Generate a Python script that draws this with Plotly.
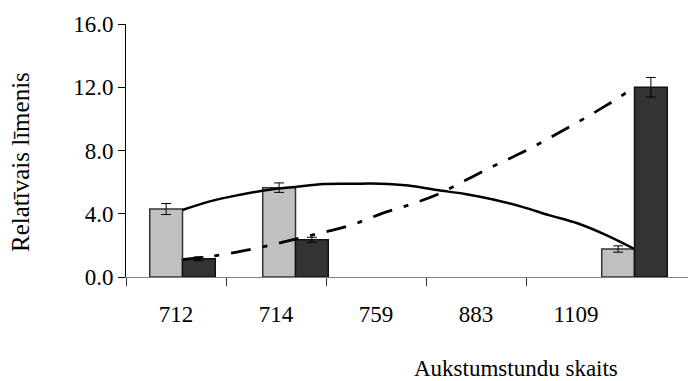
import plotly.graph_objects as go

categories = ["712", "714", "759", "883", "1109"]
light_values = [4.3, 5.65, None, None, 1.77]
light_errors = [0.35, 0.3, 0, 0, 0.2]
dark_values = [1.15, 2.35, None, None, 12.0]
dark_errors = [0.12, 0.16, 0, 0, 0.62]

# smooth trend curves (position in category units, value)
curve_pos = [0, 0.25, 0.5, 0.75, 1.0, 1.25, 1.5, 1.75, 2.0, 2.25, 2.5, 2.75, 3.0, 3.25, 3.5, 3.75, 4.0]
solid_curve = [4.24, 4.8, 5.19, 5.5, 5.7, 5.88, 5.9, 5.9, 5.78, 5.5, 5.25, 4.9, 4.45, 3.9, 3.38, 2.65, 1.77]
dash_curve = [1.1, 1.3, 1.6, 1.97, 2.4, 2.83, 3.3, 3.98, 4.55, 5.2, 6.1, 7.0, 7.85, 8.8, 9.8, 10.85, 12.0]

y_ticks = [0, 4, 8, 12, 16]

FONT = "Liberation Serif, Times New Roman, serif"
W, H = 688, 381
ML, MT, MB = 126, 24, 104
bar_w = 0.29
pos = list(range(len(categories)))

fig = go.Figure()
fig.add_trace(go.Bar(
    x=pos, y=light_values, xaxis="x2", yaxis="y",
    width=bar_w, offset=-bar_w,
    marker=dict(color="#c0c0c0", line=dict(color="#333333", width=1.5)),
    error_y=dict(type="data", array=light_errors, color="black", thickness=1, width=5),
    showlegend=False,
))
fig.add_trace(go.Bar(
    x=pos, y=dark_values, xaxis="x2", yaxis="y",
    width=bar_w, offset=0,
    marker=dict(color="#333333", line=dict(color="#111111", width=1.5)),
    error_y=dict(type="data", array=dark_errors, color="black", thickness=1, width=5),
    showlegend=False,
))
fig.add_trace(go.Scatter(
    x=curve_pos, y=solid_curve, xaxis="x2", yaxis="y", mode="lines",
    line=dict(color="black", width=2.5, shape="spline"), showlegend=False,
))
fig.add_trace(go.Scatter(
    x=curve_pos, y=dash_curve, xaxis="x2", yaxis="y", mode="lines",
    line=dict(color="black", width=2.8, shape="spline", dash="20px,12px,5px,12px"),
    showlegend=False,
))
# invisible trace to hold the label axis
fig.add_trace(go.Scatter(x=pos, y=[None]*len(pos), xaxis="x", yaxis="y",
                         mode="markers", showlegend=False, hoverinfo="skip"))

plot_w = W - ML
plot_h = H - MT - MB
lab_px = 100.0
bar_px = 113.0


def px_x(px):
    return (px - ML) / plot_w


def px_y(py):
    return 1 - (py - MT) / plot_h


fig.update_layout(
    width=W, height=H,
    margin=dict(l=ML, r=0, t=MT, b=MB, pad=0),
    paper_bgcolor="white", plot_bgcolor="white",
    font=dict(family=FONT, size=23, color="black"),
    xaxis=dict(
        range=[-0.5, plot_w / lab_px - 0.5],
        tickvals=pos, ticktext=categories,
        ticks="", showgrid=False, zeroline=False,
        showline=True, linecolor="#808080", linewidth=1,
        ticklabelstandoff=16,
        minor=dict(tickvals=[p - 0.5 for p in pos], ticks="outside", ticklen=8,
                   tickcolor="#333333", tickwidth=1),
    ),
    xaxis2=dict(
        range=[-0.5, plot_w / bar_px - 0.5],
        overlaying="x", visible=False,
    ),
    yaxis=dict(
        range=[0, 16], tickvals=y_ticks, tickformat=".1f",
        ticksuffix="\u2002",
        ticks="outside", ticklen=7, tickcolor="black",
        showline=True, linecolor="black", linewidth=1,
        showgrid=False, zeroline=False,
    ),
    annotations=[
        dict(text="Relatīvais līmenis", x=px_x(20), y=px_y(162), xref="paper", yref="paper",
             showarrow=False, textangle=-90, xanchor="center", yanchor="middle",
             font=dict(size=25)),
        dict(text="Aukstumstundu skaits", x=px_x(516), y=px_y(368), xref="paper", yref="paper",
             showarrow=False, xanchor="center", yanchor="middle"),
    ],
)

fig.write_html("out.html")
